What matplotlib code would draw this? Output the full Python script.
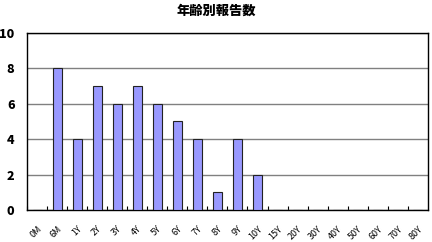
import numpy as np
import matplotlib
matplotlib.use('Agg')
import matplotlib.pyplot as plt

plt.rcParams['font.family'] = ['Noto Sans CJK JP', 'DejaVu Sans']

categories = ['0M', '6M', '1Y', '2Y', '3Y', '4Y', '5Y', '6Y', '7Y', '8Y', '9Y', '10Y',
              '15Y', '20Y', '30Y', '40Y', '50Y', '60Y', '70Y', '80Y']
counts = [0, 8, 4, 7, 6, 7, 6, 5, 4, 1, 4, 2, 0, 0, 0, 0, 0, 0, 0, 0]

fig = plt.figure(figsize=(4.32, 2.42), dpi=100)
ax = fig.add_axes([0.0625, 0.132, 0.928, 0.732])

x = np.arange(len(categories))
ax.bar(x, counts, width=0.45, color='#9999ff', edgecolor='#222222', linewidth=0.8, zorder=3)

ax.set_xlim(-0.5, len(categories) - 0.5)
ax.set_ylim(0, 10)
ax.set_yticks([0, 2, 4, 6, 8, 10])
ax.yaxis.grid(True, color='#808080', linewidth=1.0, zorder=0)
for s in ax.spines.values():
    s.set_color('black')
    s.set_linewidth(1.0)

ax.tick_params(axis='y', length=0, pad=9, labelsize=9)
for lab in ax.get_yticklabels():
    lab.set_fontweight('heavy')

# ticks at category boundaries, labels at centers
ax.set_xticks(x - 0.5, minor=False)
ax.set_xticklabels([])
ax.set_xticks(x, minor=True)
ax.set_xticklabels(categories, minor=True, rotation=45, ha='right', va='top',
                   rotation_mode='anchor', fontsize=6.5)
ax.tick_params(axis='x', which='major', direction='in', length=3, width=0.8)
ax.tick_params(axis='x', which='minor', length=0, pad=10)

fig.text(0.5, 0.955, '年齢別報告数', ha='center', va='center', fontsize=9.5, fontweight='heavy')

fig.savefig('out.png', dpi=100)
